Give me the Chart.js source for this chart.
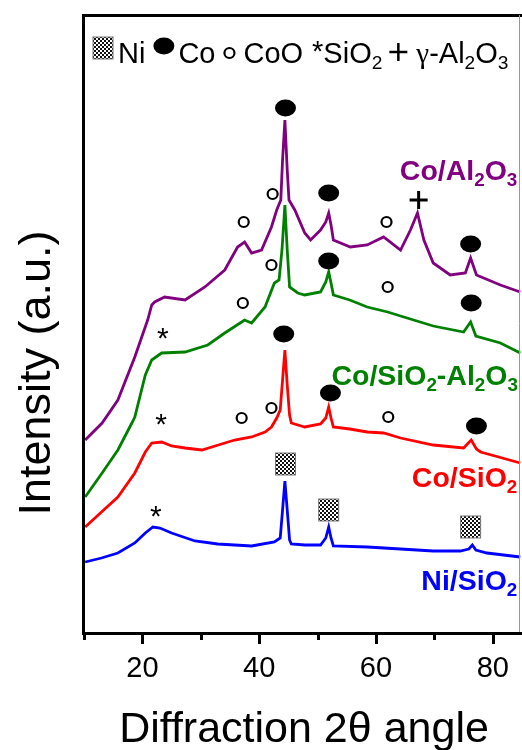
<!DOCTYPE html>
<html>
<head>
<meta charset="utf-8">
<script src="https://cdn.jsdelivr.net/npm/chart.js@4.4.0/dist/chart.umd.min.js"></script>
<style>
html,body{margin:0;padding:0;background:#fff;}
#wrap{width:522px;height:750px;position:relative;}
</style>
</head>
<body>
<div id="wrap"><canvas id="c" width="522" height="750"></canvas></div>
<script>
// ---- data (2θ in degrees, intensity in arbitrary units, offset stacked) ----
const niTheta = [10.2,13,15.8,18.7,20.5,21.8,23,25,29,32.9,38.7,42.6,43.6,44.0,44.4,44.8,45.2,45.5,47.8,50.5,51.4,51.9,52.3,52.7,58.5,64.2,69.8,74.4,75.9,76.5,77.1,79,84.7];
const niIntensity = [70,74,79,89,99,105,104,99,91,88,86,90,94,122,151,122,92,88,87,87,94,105,94,86,85,83,81,81,83,87,82,79,75];

const coSiTheta = [10.2,13,15.8,18.7,20.5,21.6,23.3,25,27.3,30.2,33,35.8,38.7,41,42.1,43,43.6,44.0,44.4,44.8,45.2,45.5,47.8,50.5,51.4,51.9,52.3,52.7,55.5,58.5,61.3,64.2,69.8,75,76.3,77.2,77.9,81,84.7];
const coSiIntensity = [105,120,135,159,180,189,190,186,184,182,187,192,195,200,205,214,222,252,282,247,217,209,205,208,214,225,214,205,203,200,199,194,187,184,192,183,180,175,169];

const coSiAlTheta = [10.2,13.1,15.8,18.2,18.7,20.5,21.6,23.3,27.3,31.2,34.1,37,37.5,38.7,41,42.6,43.4,43.9,44.4,44.8,45.2,46.6,47.8,50.5,51.4,51.9,52.3,52.7,55.5,58.5,62,64.2,69.8,75,76.2,77.1,81.3,84.7];
const coSiAlIntensity = [135,159,182,209,215,257,272,279,280,287,299,310,312,309,325,349,352,382,427,382,345,339,337,340,350,360,349,337,332,325,320,316,306,300,310,296,289,279];

const coAlTheta = [10.2,13.1,15.8,18.7,20.9,21.6,22.1,23.8,27.3,30.7,34.1,36.3,37.5,38.7,40.4,42.1,43,43.7,44.0,44.4,44.8,45.1,46.1,47.8,48.8,50.5,51.4,51.9,52.3,52.7,55.6,58.5,61.3,64.2,65.9,67.1,68.2,69.8,72.7,75.3,76.2,77.2,81.3,84.7];
const coAlIntensity = [192,209,232,275,312,327,330,335,332,345,362,385,390,379,382,405,422,432,472,512,462,432,422,399,392,402,410,419,407,392,385,387,395,382,402,419,392,369,357,359,374,357,347,340];

// phase markers: type, 2θ, intensity level
const markerType  = ['co','coo','coo','co','coo','al','co',  'coo','coo','co','coo','co','si',  'co','coo','coo','si','co','coo','co',  'ni','si','ni','ni'];
const markerTheta = [44.5,37.35,42.3,51.9,61.8,67.3,76.2,   37.2,42.1,51.9,62,76.3,23.5,   44.2,37,42.1,23.2,52.2,62.1,77.2,   44.5,22.3,51.9,76.2];
const markerLevel = [524,410,438,439,410,432,388,   329,367,371,345,329,299,   298,214,224,213,239,215,206,   168,121,122,105];

const seriesNames = ['Ni/SiO2','Co/SiO2','Co/SiO2-Al2O3','Co/Al2O3'];
const seriesColors = ['#0000ff','#ff0000','#008000','#800080'];
// sample label anchors (right edge 2θ, baseline intensity)
const labelTheta = [84.2,84.2,84.3,84.2];
const labelLevel = [42,145,247,452];

const xTicks = [20,40,60,80];
const xMinorTicks = [10,30,50,70];

function pts(t,v){return t.map((x,i)=>({x:x,y:v[i]}));}

// ---------- drawing helpers ----------
const FONT = 'Arial, "Liberation Sans", sans-serif';
function richParts(name){
  const out=[]; let buf='';
  for(const ch of name){
    if(/[0-9]/.test(ch)){ if(buf){out.push([buf,'n']);buf='';} out.push([ch,'s']); }
    else buf+=ch;
  }
  if(buf) out.push([buf,'n']);
  return out;
}
function richWidth(ctx,parts,size,bold){
  let w=0;
  for(const [t,m] of parts){
    const s = m==='n'?size:size*0.66;
    ctx.font=(bold?'bold ':'')+s+'px '+FONT;
    w+=ctx.measureText(t).width;
  }
  return w;
}
function drawRich(ctx,parts,x,y,size,bold,color,align){
  let w=richWidth(ctx,parts,size,bold);
  let cx = align==='right'? x-w : (align==='center'? x-w/2 : x);
  ctx.fillStyle=color; ctx.textBaseline='alphabetic'; ctx.textAlign='left';
  for(const [t,m] of parts){
    const s = m==='n'?size:size*0.66;
    ctx.font=(bold?'bold ':'')+s+'px '+FONT;
    const dy = m==='s'? size*0.22 : (m==='p'? -size*0.38:0);
    ctx.fillText(t,cx,y+dy);
    cx+=ctx.measureText(t).width;
  }
  return cx;
}
let hatch=null;
function getHatch(ctx){
  if(hatch) return hatch;
  const pc=document.createElement('canvas'); pc.width=4; pc.height=4;
  const p=pc.getContext('2d');
  p.fillStyle='#fff'; p.fillRect(0,0,4,4);
  p.fillStyle='#111'; p.fillRect(0,0,2,2); p.fillRect(2,2,2,2);
  hatch=ctx.createPattern(pc,'repeat'); return hatch;
}
function drawMarker(ctx,type,x,y){
  ctx.save();
  if(type==='co'){
    ctx.fillStyle='#000'; ctx.beginPath(); ctx.ellipse(x,y,10.5,8.5,0,0,Math.PI*2); ctx.fill();
  } else if(type==='coo'){
    ctx.strokeStyle='#000'; ctx.lineWidth=2.2; ctx.beginPath(); ctx.arc(x,y,5,0,Math.PI*2); ctx.stroke();
  } else if(type==='ni'){
    ctx.fillStyle=getHatch(ctx); ctx.fillRect(x-10,y-11,20,22);
    ctx.strokeStyle='#777'; ctx.lineWidth=1; ctx.strokeRect(x-10,y-11,20,22);
  } else if(type==='si'){
    ctx.fillStyle='#000'; ctx.font='30px '+FONT; ctx.textAlign='center'; ctx.textBaseline='middle';
    ctx.fillText('*',x,y+7);
  } else if(type==='al'){
    ctx.strokeStyle='#000'; ctx.lineWidth=3; ctx.beginPath();
    ctx.moveTo(x-9,y); ctx.lineTo(x+9,y); ctx.moveTo(x,y-9); ctx.lineTo(x,y+9); ctx.stroke();
  }
  ctx.restore();
}

const overlay = {
  id:'overlay',
  afterDatasetsDraw(chart){
    const ctx=chart.ctx, a=chart.chartArea, xs=chart.scales.x, ys=chart.scales.y;
    ctx.save();
    // frame
    ctx.strokeStyle='#000'; ctx.lineWidth=3;
    ctx.beginPath(); ctx.moveTo(a.left-1.5, 15.5); ctx.lineTo(522, 15.5); ctx.stroke();
    ctx.beginPath(); ctx.moveTo(a.left-0.5, 14); ctx.lineTo(a.left-0.5, a.bottom+1.5); ctx.lineTo(522, a.bottom+1.5); ctx.stroke();
    ctx.strokeStyle='#999'; ctx.lineWidth=1;
    ctx.beginPath(); ctx.moveTo(519.5,15); ctx.lineTo(519.5,a.bottom); ctx.stroke();
    // ticks
    ctx.strokeStyle='#000'; ctx.lineWidth=3;
    for(const t of xTicks){ const px=Math.round(xs.getPixelForValue(t))+0.5; ctx.beginPath(); ctx.moveTo(px,a.bottom+1); ctx.lineTo(px,a.bottom+12); ctx.stroke(); }
    for(const t of xMinorTicks){ const px=Math.round(xs.getPixelForValue(t))+0.5; ctx.beginPath(); ctx.moveTo(px,a.bottom+1); ctx.lineTo(px,a.bottom+8); ctx.stroke(); }
    ctx.fillStyle='#000'; ctx.font='29px '+FONT; ctx.textAlign='center'; ctx.textBaseline='alphabetic';
    for(const t of xTicks){ ctx.fillText(String(t), xs.getPixelForValue(t), 677); }
    // axis titles
    ctx.font='43px '+FONT; ctx.textAlign='center';
    ctx.fillText('Diffraction 2\u03b8 angle', 304, 742);
    ctx.font='45px '+FONT;
    ctx.save(); ctx.translate(50,373); ctx.rotate(-Math.PI/2);
    ctx.fillText('Intensity (a.u.)',0,0); ctx.restore();
    // markers
    for(let i=0;i<markerType.length;i++){
      drawMarker(ctx, markerType[i], xs.getPixelForValue(markerTheta[i]), ys.getPixelForValue(markerLevel[i]));
    }
    // sample labels
    for(let i=0;i<seriesNames.length;i++){
      drawRich(ctx, richParts(seriesNames[i]), xs.getPixelForValue(labelTheta[i]), ys.getPixelForValue(labelLevel[i]), 28.5, true, seriesColors[i], 'right');
    }
    // legend (sequential layout)
    const ly=63, ls=29;
    let x=93;
    drawMarker(ctx,'ni',x+10,48); x+=25;
    x=drawRich(ctx,[['Ni','n']],x,ly,ls,false,'#000','left')+8;
    drawMarker(ctx,'co',x+10.5,46); x+=25;
    x=drawRich(ctx,[['Co','n']],x,ly,ls,false,'#000','left')+9;
    drawMarker(ctx,'coo',x+5,53); x+=19;
    x=drawRich(ctx,[['CoO','n']],x,ly,ls,false,'#000','left')+9;
    ctx.fillStyle='#000'; ctx.font=ls+'px '+FONT; ctx.textAlign='left'; ctx.fillText('*',x,ly-2); x+=ctx.measureText('*').width;
    x=drawRich(ctx,[['SiO','n'],['2','s']],x,ly,ls,false,'#000','left')+7;
    ctx.strokeStyle='#000'; ctx.lineWidth=2.5; ctx.beginPath(); ctx.moveTo(x,52); ctx.lineTo(x+18,52); ctx.moveTo(x+9,43); ctx.lineTo(x+9,61); ctx.stroke(); x+=27;
    ctx.fillStyle='#000'; ctx.font=ls+'px "Liberation Serif", serif'; ctx.fillText('\u03b3',x,ly); x+=ctx.measureText('\u03b3').width;
    drawRich(ctx,[['-Al','n'],['2','s'],['O','n'],['3','s']],x,ly,ls,false,'#000','left');
    ctx.restore();
  }
};

const ds = [
  {label:seriesNames[0], data:pts(niTheta,niIntensity), borderColor:seriesColors[0]},
  {label:seriesNames[1], data:pts(coSiTheta,coSiIntensity), borderColor:seriesColors[1]},
  {label:seriesNames[2], data:pts(coSiAlTheta,coSiAlIntensity), borderColor:seriesColors[2]},
  {label:seriesNames[3], data:pts(coAlTheta,coAlIntensity), borderColor:seriesColors[3]}
].map(d=>Object.assign(d,{borderWidth:2.8,pointRadius:0,tension:0,fill:false}));

new Chart(document.getElementById('c'),{
  type:'line',
  data:{datasets:ds},
  options:{
    responsive:false, animation:false, devicePixelRatio:1,
    layout:{padding:{left:0,right:0,top:15,bottom:0}},
    plugins:{legend:{display:false},tooltip:{enabled:false}},
    scales:{
      x:{type:'linear',min:10,max:85,grid:{display:false},border:{display:false},ticks:{display:false},
         afterFit(s){s.height=118;}},
      y:{min:0,max:617,grid:{display:false},border:{display:false},ticks:{display:false},
         afterFit(s){s.width=84;}}
    }
  },
  plugins:[overlay]
});
</script>
</body>
</html>
